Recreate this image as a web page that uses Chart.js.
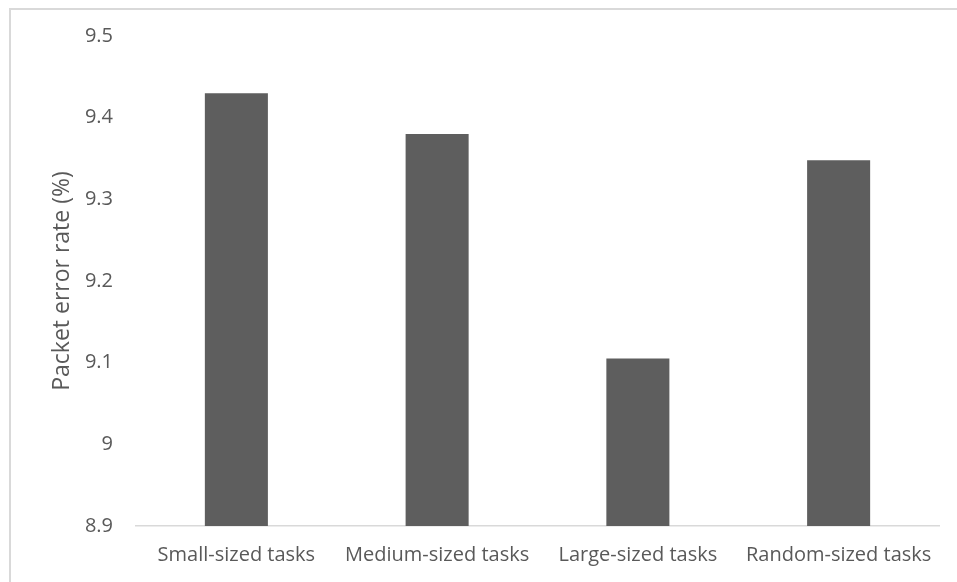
<!DOCTYPE html>
<html>
<head>
<meta charset="utf-8">
<script src="https://cdn.jsdelivr.net/npm/chart.js@4/dist/chart.umd.min.js"></script>
<style>
  html, body { margin: 0; padding: 0; background: #ffffff; }
  #wrap { position: absolute; left: 0; top: 0; width: 957px; height: 582px; }
</style>
</head>
<body>
<div id="wrap"><canvas id="chart" width="957" height="582"></canvas></div>
<script>
// Packet error rate per task-size group
const categories = ['Small-sized tasks', 'Medium-sized tasks', 'Large-sized tasks', 'Random-sized tasks'];
const errorRates = [9.43, 9.38, 9.105, 9.348];
const yMin = 8.9;
const yMax = 9.5;
const yStep = 0.1;
const yTitle = 'Packet error rate (%)';

const textColor = '#595959';
const fontFamily = '"Open Sans", "Noto Sans", sans-serif';

// light frame around the chart
const framePlugin = {
  id: 'frame',
  beforeDraw(chart) {
    const ctx = chart.ctx;
    ctx.save();
    ctx.fillStyle = '#ffffff';
    ctx.fillRect(0, 0, chart.width, chart.height);
    ctx.strokeStyle = '#d9d9d9';
    ctx.lineWidth = 2;
    ctx.beginPath();
    ctx.moveTo(10, chart.height + 5);
    ctx.lineTo(10, 9);
    ctx.lineTo(chart.width + 5, 9);
    ctx.stroke();
    ctx.restore();
  }
};

new Chart(document.getElementById('chart'), {
  type: 'bar',
  data: {
    labels: categories,
    datasets: [{
      data: errorRates,
      backgroundColor: '#5e5e5e',
      borderWidth: 0,
      barPercentage: 0.314,
      categoryPercentage: 1.0
    }]
  },
  options: {
    responsive: false,
    animation: false,
    devicePixelRatio: 1,
    layout: { padding: { left: 10, right: 18, top: 36, bottom: 0 } },
    plugins: {
      legend: { display: false },
      tooltip: { enabled: false }
    },
    scales: {
      x: {
        grid: { display: false, drawTicks: false },
        border: { display: true, color: '#d9d9d9', width: 1.5 },
        ticks: {
          color: textColor,
          font: { family: fontFamily, size: 20 },
          padding: 17,
          maxRotation: 0,
          autoSkip: false
        },
        afterFit(scale) { scale.height = 56; }
      },
      y: {
        min: yMin,
        max: yMax,
        grid: { display: false, drawTicks: false },
        border: { display: false },
        ticks: {
          stepSize: yStep,
          color: textColor,
          font: { family: fontFamily, size: 20 },
          padding: 23,
          callback: (v) => String(Number(v.toFixed(1)))
        },
        title: {
          display: true,
          text: yTitle,
          color: textColor,
          font: { family: fontFamily, size: 23 },
          padding: { top: 39, bottom: 0 }
        },
        afterFit(scale) { scale.width = 126; }
      }
    }
  },
  plugins: [framePlugin]
});
</script>
</body>
</html>
